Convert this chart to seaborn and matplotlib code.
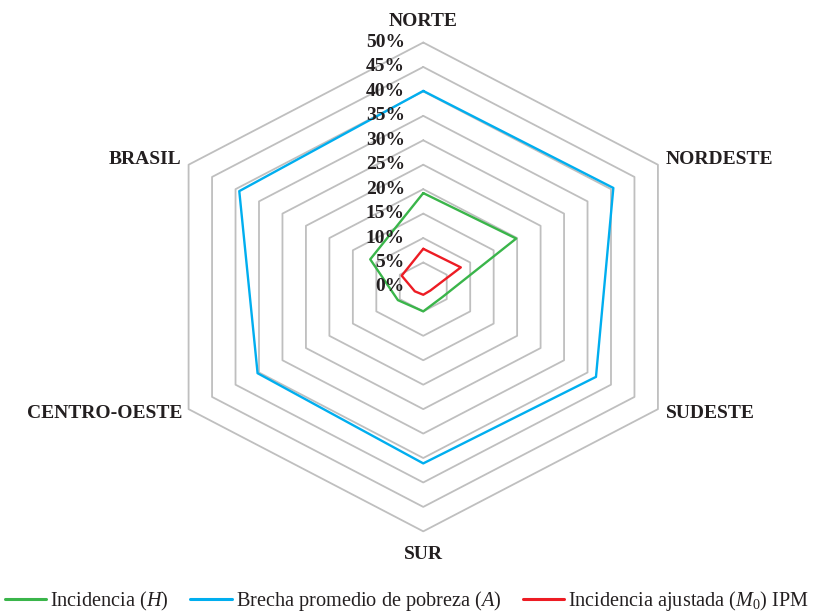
"""Radar chart: pobreza multidimensional por región de Brasil."""
import numpy as np
import pandas as pd
import matplotlib
matplotlib.use("Agg")
import matplotlib.pyplot as plt
import seaborn as sns

# Data (percent)
categorias = ["NORTE", "NORDESTE", "SUDESTE", "SUR", "CENTRO-OESTE", "BRASIL"]
incidencia = [19.2, 19.8, 4.1, 5.0, 5.4, 11.3]
brecha = [40.1, 40.5, 36.8, 36.1, 35.3, 39.2]
ajustada = [7.8, 8.0, 1.5, 1.6, 1.8, 4.6]
niveles = [0, 5, 10, 15, 20, 25, 30, 35, 40, 45, 50]
etiquetas_niveles = [f"{n}%" for n in niveles]

series = {
    "Incidencia ($H$)": incidencia,
    "Brecha promedio de pobreza ($A$)": brecha,
    r"Incidencia ajustada ($M_{\mathit{0}}$) IPM": ajustada,
}
colores = ["#3ab54a", "#00aeef", "#ed1c24"]

sns.set_style("white")
plt.rcParams["font.family"] = ["Liberation Serif", "DejaVu Serif"]
plt.rcParams["mathtext.fontset"] = "custom"
plt.rcParams["mathtext.rm"] = "Liberation Serif"
plt.rcParams["mathtext.it"] = "Liberation Serif:italic"

angulos = np.deg2rad(np.arange(len(categorias)) * 60.0)


def to_xy(valores):
    v = np.asarray(list(valores) + [valores[0]], dtype=float)
    a = np.append(angulos, angulos[0])
    return v * np.sin(a), v * np.cos(a)


# long table for seaborn
filas = []
for nombre, vals in series.items():
    xs, ys = to_xy(vals)
    for i, (x, y) in enumerate(zip(xs, ys)):
        filas.append({"serie": nombre, "orden": i, "x": x, "y": y})
df = pd.DataFrame(filas)

fig = plt.figure(figsize=(8.14, 6.12), dpi=100)
ax = fig.add_axes([0, 0, 1, 1])

# hexagonal grid
for n in niveles[1:]:
    gx, gy = to_xy([n] * len(categorias))
    ax.plot(gx, gy, color="#bfbfbf", lw=1.3, zorder=1)

sns.lineplot(data=df, x="x", y="y", hue="serie", units="serie", estimator=None,
             sort=False, palette=colores, linewidth=1.7, ax=ax, zorder=3)

# radial tick labels
for n, lab in zip(niveles, etiquetas_niveles):
    ax.text(-3.4, n, lab, ha="right", va="center", fontsize=14,
            fontweight="bold", color="#231f20", zorder=4)

# category labels
pos = [(0, 54.3, "center"), (44.8, 26.0, "left"), (44.8, -25.8, "left"),
       (0, -54.8, "center"), (-44.5, -25.8, "right"), (-44.6, 26.0, "right")]
for cat, (x, y, ha) in zip(categorias, pos):
    ax.text(x, y, cat, ha=ha, va="center", fontsize=14, fontweight="bold",
            color="#231f20")

ax.set_xlim(-78.1, 72.1)
ax.set_ylim(-66.5, 58.7)
ax.set_aspect("auto")
ax.axis("off")

handles, labels = ax.get_legend_handles_labels()
ax.legend_.remove()
for h in handles:
    h.set_linewidth(2.2)
fig.legend(handles, labels, loc="center", bbox_to_anchor=(0.5, 1 - 601 / 612),
           ncol=3, frameon=False, fontsize=14.6, handlelength=2.05,
           handletextpad=0.2, columnspacing=1.05, labelcolor="#231f20")

fig.savefig("out.png", dpi=100)
